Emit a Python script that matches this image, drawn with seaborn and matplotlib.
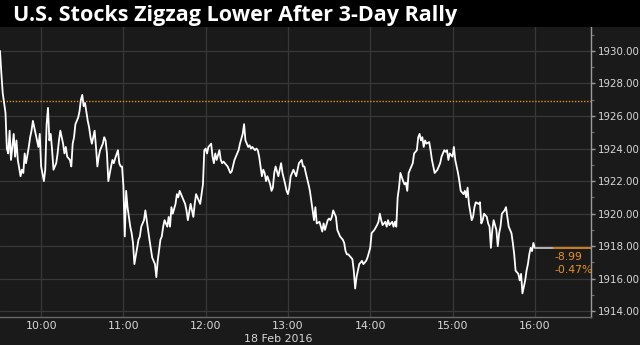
import numpy as np
import pandas as pd
import matplotlib
matplotlib.use("Agg")
import matplotlib.pyplot as plt
import matplotlib.dates as mdates
from matplotlib.ticker import MultipleLocator, FormatStrFormatter
from matplotlib.patches import Rectangle
import seaborn as sns

# ---------------- data ----------------
title = "U.S. Stocks Zigzag Lower After 3-Day Rally"
date_label = "18 Feb 2016"
day = "2016-02-18"

times = [
    "09:30", "09:31", "09:32", "09:34", "09:35", "09:36", "09:37", "09:38", "09:40", "09:41",
    "09:42", "09:43", "09:45", "09:46", "09:47", "09:48", "09:49", "09:51", "09:52", "09:53",
    "09:54", "09:55", "09:57", "09:58", "09:59",
    "10:00", "10:02", "10:03", "10:04", "10:05", "10:06", "10:07", "10:08", "10:09", "10:11",
    "10:12", "10:13", "10:14", "10:16", "10:17", "10:18", "10:19", "10:21", "10:22", "10:23",
    "10:24", "10:25", "10:27", "10:28", "10:29", "10:30", "10:31", "10:32", "10:34", "10:35",
    "10:36", "10:37", "10:39", "10:40", "10:41", "10:42", "10:43", "10:45", "10:46", "10:47",
    "10:48", "10:49", "10:51", "10:52", "10:53", "10:54", "10:56", "10:57", "10:58", "10:59",
    "11:00", "11:01", "11:02", "11:03", "11:04", "11:05", "11:06", "11:07", "11:08", "11:10",
    "11:11", "11:12", "11:13", "11:15", "11:16", "11:17", "11:18", "11:19", "11:21", "11:22",
    "11:23", "11:24", "11:25", "11:27", "11:28", "11:29", "11:30", "11:32", "11:33", "11:34",
    "11:35", "11:36", "11:38", "11:39", "11:40", "11:41", "11:42", "11:44", "11:45", "11:46",
    "11:47", "11:49", "11:50", "11:51", "11:52", "11:53", "11:55", "11:56", "11:57", "11:58",
    "11:59",
    "12:00", "12:01", "12:02", "12:04", "12:05", "12:06", "12:07", "12:08", "12:10", "12:11",
    "12:12", "12:13", "12:15", "12:16", "12:17", "12:18", "12:19", "12:21", "12:22", "12:23",
    "12:24", "12:25", "12:27", "12:28", "12:29", "12:30", "12:31", "12:32", "12:33", "12:34",
    "12:36", "12:37", "12:38", "12:39", "12:41", "12:42", "12:43", "12:44", "12:45", "12:47",
    "12:48", "12:49", "12:50", "12:51", "12:53", "12:54", "12:55", "12:56", "12:58", "12:59",
    "13:00", "13:01", "13:02", "13:04", "13:05", "13:06", "13:07", "13:08", "13:10", "13:11",
    "13:12", "13:13", "13:15", "13:16", "13:17", "13:18", "13:19", "13:20", "13:21", "13:23",
    "13:24", "13:25", "13:26", "13:27", "13:29", "13:30", "13:31", "13:32", "13:33", "13:35",
    "13:36", "13:37", "13:38", "13:40", "13:41", "13:42", "13:43", "13:44", "13:46", "13:47",
    "13:48", "13:49", "13:50", "13:51", "13:52", "13:54", "13:55", "13:56", "13:57", "13:58",
    "14:00", "14:01", "14:02", "14:03", "14:05", "14:06", "14:07", "14:08", "14:09", "14:11",
    "14:12", "14:13", "14:14", "14:16", "14:17", "14:18", "14:19", "14:20", "14:21", "14:22",
    "14:24", "14:25", "14:26", "14:27", "14:28", "14:30", "14:31", "14:32", "14:34", "14:35",
    "14:36", "14:37", "14:38", "14:39", "14:40", "14:41", "14:43", "14:44", "14:45", "14:46",
    "14:47", "14:49", "14:50", "14:51", "14:52", "14:54", "14:55", "14:56", "14:57", "14:58",
    "15:00", "15:01", "15:02", "15:03", "15:04", "15:05", "15:06", "15:08", "15:09", "15:10",
    "15:11", "15:12", "15:14", "15:15", "15:16", "15:17", "15:19", "15:20", "15:21", "15:22",
    "15:23", "15:25", "15:26", "15:27", "15:28", "15:29", "15:30", "15:32", "15:33", "15:34",
    "15:35", "15:36", "15:38", "15:39", "15:40", "15:41", "15:43", "15:44", "15:45", "15:46",
    "15:48", "15:49", "15:50", "15:51", "15:53", "15:54", "15:55", "15:56", "15:57", "15:58",
    "15:59", "16:00",
]

prices = [
    1930.0, 1928.6, 1927.4, 1926.2, 1924.0, 1923.7, 1925.1, 1923.3, 1924.9, 1923.5,
    1924.5, 1923.3, 1922.3, 1922.7, 1922.5, 1923.7, 1923.1, 1924.1, 1924.7, 1925.1,
    1925.7, 1925.3, 1924.5, 1924.1, 1924.9,
    1922.9, 1922.0, 1922.7, 1925.5, 1926.5, 1924.5, 1924.9, 1923.9, 1922.7, 1923.1,
    1923.7, 1924.5, 1925.1, 1924.3, 1923.7, 1924.1, 1923.5, 1923.3, 1922.9, 1924.3,
    1924.7, 1925.5, 1925.9, 1926.3, 1927.0, 1927.3, 1926.6, 1926.8, 1925.7, 1925.3,
    1924.7, 1924.3, 1925.1, 1924.1, 1922.9, 1923.5, 1923.9, 1924.3, 1924.7, 1924.5,
    1923.7, 1922.0, 1922.9, 1923.3, 1923.1, 1923.4, 1923.9, 1923.1, 1922.9, 1922.9,
    1921.7, 1918.6, 1921.4, 1920.4, 1919.8, 1919.2, 1918.8, 1918.2, 1916.9, 1917.9,
    1918.4, 1918.6, 1919.2, 1919.6, 1920.2, 1919.6, 1919.0, 1918.4, 1917.3, 1917.1,
    1916.9, 1916.1, 1917.1, 1918.4, 1918.6, 1919.2, 1919.6, 1919.2, 1919.8, 1919.2,
    1920.4, 1920.0, 1920.6, 1921.2, 1921.0, 1921.4, 1921.2, 1920.8, 1920.6, 1920.2,
    1919.6, 1920.6, 1920.2, 1919.8, 1920.6, 1921.2, 1920.8, 1920.6, 1921.2, 1921.8,
    1923.9,
    1924.0, 1923.7, 1924.1, 1924.3, 1923.5, 1923.1, 1923.7, 1923.3, 1923.9, 1923.3,
    1923.1, 1923.2, 1923.0, 1922.9, 1922.7, 1922.5, 1922.6, 1923.3, 1923.5, 1923.7,
    1923.9, 1924.3, 1924.9, 1925.5, 1924.5, 1924.3, 1924.1, 1924.2, 1924.0, 1924.1,
    1923.9, 1924.0, 1923.9, 1923.5, 1922.3, 1922.7, 1922.5, 1922.0, 1922.3, 1921.8,
    1921.4, 1921.6, 1922.5, 1922.9, 1922.3, 1922.7, 1923.1, 1922.5, 1921.8, 1921.4,
    1921.2, 1921.6, 1922.3, 1922.7, 1922.5, 1922.3, 1922.7, 1923.1, 1923.3, 1922.9,
    1922.9, 1922.5, 1921.8, 1921.4, 1920.8, 1920.2, 1919.6, 1920.4, 1919.4, 1919.5,
    1919.2, 1918.9, 1919.4, 1919.0, 1919.6, 1919.7, 1919.6, 1919.8, 1920.2, 1919.8,
    1919.0, 1918.8, 1918.6, 1918.4, 1918.2, 1917.7, 1917.5, 1917.5, 1917.3, 1917.2,
    1916.5, 1915.4, 1916.1, 1916.5, 1916.9, 1917.1, 1916.9, 1917.0, 1917.1, 1917.3,
    1917.9, 1918.8, 1918.9, 1919.0, 1919.3, 1919.5, 1920.0, 1919.6, 1919.3, 1919.5,
    1919.2, 1919.6, 1919.3, 1919.5, 1919.2, 1919.5, 1919.2, 1921.0, 1921.6, 1922.5,
    1922.0, 1921.8, 1921.9, 1921.4, 1922.5, 1922.9, 1923.1, 1923.7, 1923.9, 1924.7,
    1924.9, 1924.5, 1924.7, 1924.1, 1924.5, 1924.3, 1924.4, 1923.9, 1923.3, 1922.9,
    1922.5, 1922.7, 1922.9, 1923.1, 1923.5, 1923.9, 1923.8, 1923.9, 1923.3, 1923.7,
    1923.5, 1924.1, 1923.3, 1922.9, 1922.5, 1922.0, 1921.4, 1921.2, 1921.4, 1921.0,
    1921.6, 1920.6, 1919.6, 1919.8, 1920.4, 1920.7, 1920.6, 1920.7, 1919.4, 1919.6,
    1920.0, 1919.8, 1919.4, 1919.2, 1917.9, 1919.0, 1919.6, 1919.0, 1918.0, 1918.8,
    1919.2, 1920.0, 1920.2, 1920.4, 1919.8, 1919.2, 1918.8, 1918.2, 1917.5, 1916.5,
    1916.3, 1915.9, 1916.3, 1915.1, 1915.9, 1916.5, 1916.9, 1917.5, 1917.9, 1917.7,
    1918.2, 1917.91,
]

after_times = ["16:00", "16:13"]
after_prices = [1917.91, 1917.91]
prev_close = 1926.9
last_price = 1917.91
change_txt = "-8.99"
pct_txt = "-0.47%"
x_tick_times = ["10:00", "11:00", "12:00", "13:00", "14:00", "15:00", "16:00"]
y_ticks = [1914, 1916, 1918, 1920, 1922, 1924, 1926, 1928, 1930]
x_start, x_end = "09:30", "16:41"
y_low, y_high = 1913.65, 1931.47

# ---------------- style ----------------
BG = "#1a1a1a"
ORANGE = "#e8921c"
GRID = "#383838"
TXT = "#d8d8d8"

sns.set_style("dark", {"axes.facecolor": BG, "figure.facecolor": BG})
plt.rcParams["font.family"] = ["DejaVu Sans"]

df = pd.DataFrame({"time": pd.to_datetime([f"{day} {t}" for t in times]),
                   "price": prices})
df_after = pd.DataFrame({"time": pd.to_datetime([f"{day} {t}" for t in after_times]),
                         "price": after_prices})

fig = plt.figure(figsize=(6.4, 3.45), dpi=100, facecolor=BG)
ax = fig.add_axes([0.0, 1 - 317 / 345, 591 / 640, (317 - 27) / 345])
ax.set_facecolor(BG)

# title bar
fig.patches.append(Rectangle((0, 1 - 27 / 345), 1, 27 / 345, transform=fig.transFigure,
                             facecolor="black", edgecolor="none", zorder=0))
fig.text(13 / 640, 1 - 20.5 / 345, title, color="white", fontsize=15.5,
         fontweight="bold", family=["Open Sans", "DejaVu Sans"], va="baseline", ha="left")

# grid
ax.grid(True, which="major", color=GRID, lw=0.9)
ax.set_axisbelow(True)

# reference (previous close) dotted line
ax.axhline(prev_close, color=ORANGE, lw=1.0, ls=(0, (1, 1.2)), zorder=2)

sns.lineplot(data=df, x="time", y="price", ax=ax, color="white", lw=1.3,
             estimator=None, zorder=4)
sns.lineplot(data=df_after, x="time", y="price", ax=ax, color="#cfcfcf", lw=1.2,
             estimator=None, zorder=4)

x0 = pd.Timestamp(f"{day} {x_start}")
x1 = pd.Timestamp(f"{day} {x_end}")
t_last = pd.Timestamp(f"{day} {after_times[-1]}")
ax.plot([t_last, x1], [last_price, last_price], color=ORANGE, lw=1.2, zorder=4)

ax.set_xlim(x0, x1)
ax.set_ylim(y_low, y_high)

# axes
ax.yaxis.tick_right()
ax.set_yticks(y_ticks)
ax.yaxis.set_major_formatter(FormatStrFormatter("%.2f"))
ax.yaxis.set_minor_locator(MultipleLocator(1))
ax.tick_params(axis="y", which="major", direction="out", length=3, width=1,
               color="#9a9a9a", labelcolor=TXT, labelsize=7.4, pad=2)
ax.tick_params(axis="y", which="minor", direction="out", length=2, width=0.8,
               color="#707070")

ax.set_xticks(pd.to_datetime([f"{day} {t}" for t in x_tick_times]))
ax.xaxis.set_major_formatter(mdates.DateFormatter("%H:%M"))
ax.xaxis.set_minor_locator(mdates.MinuteLocator(byminute=[30]))
ax.tick_params(axis="x", which="major", length=0, labelcolor=TXT, labelsize=7.9, pad=3)
ax.tick_params(axis="x", which="minor", direction="out", length=3, width=0.8,
               color="#707070")

ax.set_xlabel("")
ax.set_ylabel("")
for s in ["top", "left"]:
    ax.spines[s].set_visible(False)
ax.spines["right"].set_color("#9a9a9a")
ax.spines["right"].set_linewidth(1.0)
ax.spines["bottom"].set_color("#6a6a6a")
ax.spines["bottom"].set_linewidth(1.0)

fig.text(278 / 640, 1 - 339 / 345, date_label, color=TXT, fontsize=7.9,
         ha="center", va="center")

# change labels
ax.text(0.938, (last_price - 0.55 - y_low) / (y_high - y_low), change_txt,
        transform=ax.transAxes, color=ORANGE, fontsize=7.8, ha="left", va="center")
ax.text(0.938, (last_price - 1.35 - y_low) / (y_high - y_low), pct_txt,
        transform=ax.transAxes, color=ORANGE, fontsize=7.8, ha="left", va="center")

fig.savefig("out.png", dpi=100, facecolor=BG)
